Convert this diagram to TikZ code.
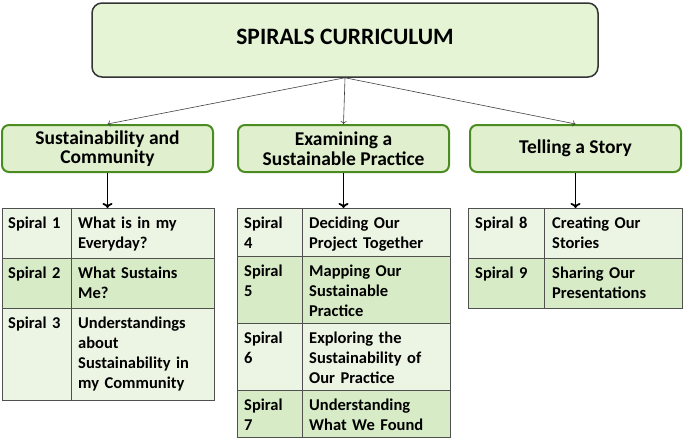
\documentclass[tikz,border=0pt]{standalone}
\usepackage{fontspec}
\setmainfont{Carlito}
\usetikzlibrary{arrows.meta}
\definecolor{titlefill}{RGB}{228,244,213}
\definecolor{headfill}{RGB}{224,240,206}
\definecolor{headline}{RGB}{74,140,32}
\definecolor{rowlight}{RGB}{236,244,228}
\definecolor{rowdark}{RGB}{214,235,198}
\definecolor{tabline}{RGB}{80,80,80}

\begin{document}
\begin{tikzpicture}[x=1pt,y=-1pt,
  titlebox/.style={draw=black!80,line width=1.5pt,fill=titlefill,rounded corners=10pt,
    minimum width=506,minimum height=74,font=\bfseries\fontsize{23.5}{28}\selectfont},
  headbox/.style={draw=headline,line width=2pt,fill=headfill,rounded corners=7pt,
    minimum width=211,minimum height=47,align=center,inner sep=1pt,
    font=\bfseries\fontsize{19.5}{19.5}\selectfont},
  cell/.style={draw=tabline,line width=1.2pt,anchor=north west,inner sep=0pt},
  celltxt/.style={anchor=base west,inner sep=0pt,text width=#1,align=left,
    font=\bfseries\fontsize{16.5}{20}\selectfont},
  thinarr/.style={->,draw=black!75,line width=0.6pt},
  downarr/.style={-{To[length=5pt,width=10pt]},line width=1.8pt}]
\useasboundingbox (0,0) rectangle (685,439);

\node[titlebox] (title) at (345,40) {\raisebox{6pt}{SPIRALS CURRICULUM}};

\node[headbox] (hdA) at (107.5,148.5) {Sustainability and\\Community};
\node[headbox] (hdB) at (343.5,148.5) {Examining a\\Sustainable Practice};
\node[headbox] (hdC) at (575.5,148.5) {Telling a Story};

\draw[thinarr] (title.south) -- (hdA.north);
\draw[thinarr] (title.south) -- (hdB.north);
\draw[thinarr] (title.south) -- (hdC.north);

\foreach \ya/\yb/\col/\lab/\txt [count=\i] in {
  208/258/rowlight/{Spiral 1}/{What is in my\\Everyday?},
  258/308/rowdark/{Spiral 2}/{What Sustains\\Me?},
  308/400/rowlight/{Spiral 3}/{Understandings\\about\\Sustainability in\\my Community}}{
  \node[cell,fill=\col,minimum width=69,minimum height={\yb-\ya}] (A\i l) at (2,\ya) {};
  \node[cell,fill=\col,minimum width=143,minimum height={\yb-\ya}] (A\i r) at (71,\ya) {};
  \node[celltxt=62] (A\i lt) at (8,{\ya+20}) {\lab};
  \node[celltxt=134] (A\i rt) at (78,{\ya+20}) {\txt};
}

\foreach \ya/\yb/\col/\lab/\txt [count=\i] in {
  208/256/rowlight/{Spiral\\4}/{Deciding Our\\Project Together},
  256/323/rowdark/{Spiral\\5}/{Mapping Our\\Sustainable\\Practice},
  323/390/rowlight/{Spiral\\6}/{Exploring the\\Sustainability of\\Our Practice},
  390/437/rowdark/{Spiral\\7}/{Understanding\\What We Found}}{
  \node[cell,fill=\col,minimum width=65,minimum height={\yb-\ya}] (B\i l) at (237,\ya) {};
  \node[cell,fill=\col,minimum width=148,minimum height={\yb-\ya}] (B\i r) at (302,\ya) {};
  \node[celltxt=58] (B\i lt) at (244,{\ya+20}) {\lab};
  \node[celltxt=140] (B\i rt) at (309,{\ya+20}) {\txt};
}

\foreach \ya/\yb/\col/\lab/\txt [count=\i] in {
  208/258/rowlight/{Spiral 8}/{Creating Our\\Stories},
  258/308/rowdark/{Spiral 9}/{Sharing Our\\Presentations}}{
  \node[cell,fill=\col,minimum width=76,minimum height={\yb-\ya}] (C\i l) at (468,\ya) {};
  \node[cell,fill=\col,minimum width=138,minimum height={\yb-\ya}] (C\i r) at (544,\ya) {};
  \node[celltxt=68] (C\i lt) at (475,{\ya+20}) {\lab};
  \node[celltxt=130] (C\i rt) at (552,{\ya+20}) {\txt};
}

\draw[downarr] (hdA.south) -- (hdA.south |- A1r.north);
\draw[downarr] (hdB.south) -- (hdB.south |- B1r.north);
\draw[downarr] (hdC.south) -- (hdC.south |- C1r.north);
\end{tikzpicture}
\end{document}
